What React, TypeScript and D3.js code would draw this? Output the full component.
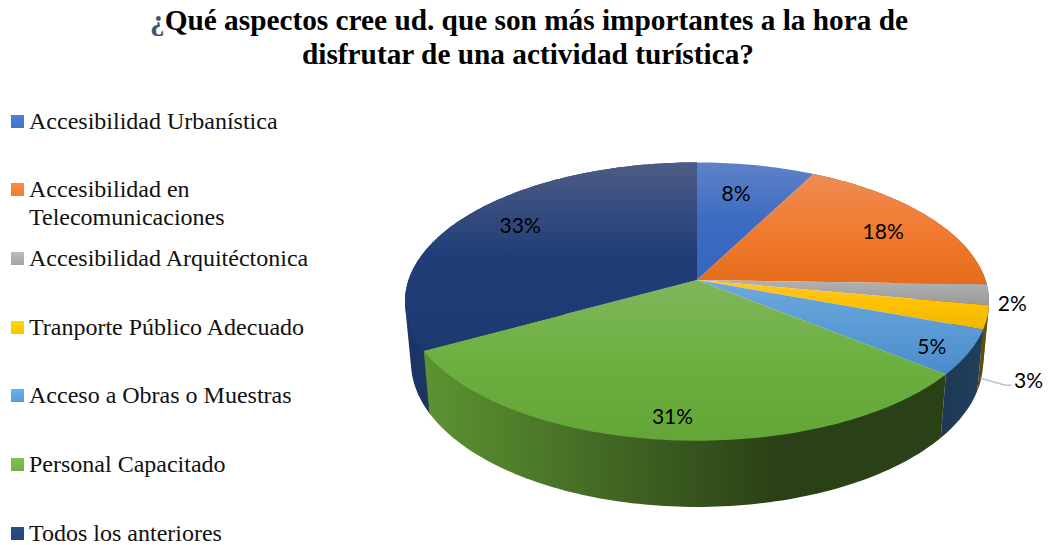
import * as d3 from "d3";

const categories = [
  "Accesibilidad Urbanística",
  "Accesibilidad en|Telecomunicaciones",
  "Accesibilidad Arquitéctonica",
  "Tranporte Público Adecuado",
  "Acceso a Obras o Muestras",
  "Personal Capacitado",
  "Todos los anteriores",
];
// shares; the labels show them rounded
const values = [7.6, 17.9, 2.4, 2.7, 5.2, 31.2, 33];

// face colours: [top of slice, middle, bottom of slice]
const faceColors = [
  ["#5f82c8", "#3c6bc2", "#3566be"],
  ["#ee8c55", "#f07b30", "#e56c1b"],
  ["#b2b2b2", "#a5a5a5", "#9a9a9a"],
  ["#ffc62e", "#ffc000", "#efb800"],
  ["#6fa8dc", "#5b9bd5", "#4a8ccb"],
  ["#7fb65c", "#6cb040", "#64a538"],
  ["#4d5c86", "#203d78", "#1d3a70"],
];
// wall colours: [left, right]
const wallColors = [
  ["#8a4212", "#8a4212"],
  ["#8a4212", "#8a4212"],
  ["#5e5e5e", "#5e5e5e"],
  ["#5c4500", "#705400"],
  ["#1d3854", "#20405f"],
  ["#5d9332", "#2a4016"],
  ["#1c3564", "#1a3160"],
];
const legendColors = ["#4472c4", "#ed7d31", "#a5a5a5", "#ffc000", "#5b9bd5", "#70ad47", "#264478"];

// layout
const width = 1048;
const height = 545;
const cx = 697;
const persp = -0.155;
const topLevel = { apex: 280, rx: 288.5, ry: 135.8 };
const bottomLevel = { apex: 339.5, rx: 282.6, ry: 141.5 };
const legendY = [115, 183, 252, 321, 389, 458, 527];
const wallOrder = [6, 1, 2, 3, 4, 5];
const labelRadius = [0.75, 0.75, 1.1, 1.1, 0.75, 0.75, 0.75];
const labelNudge = [
  [-7, 1],
  [10, -1],
  [-6, 6],
  [11, 58],
  [35, 12],
  [-3, 21],
  [-1, -7],
];

type Level = { apex: number; rx: number; ry: number };

// perspective projection of a point of the pie disc
const project = (angle: number, r: number, lv: Level): [number, number] => {
  const u = r * Math.sin(angle);
  const v = -r * Math.cos(angle);
  const w = 1 + persp * v;
  return [cx + (lv.rx * u) / w, lv.apex + (lv.ry * v) / w];
};

const sampleArc = (a0: number, a1: number, lv: Level) => {
  const n = Math.max(2, Math.ceil((a1 - a0) / 0.02));
  return d3.range(n + 1).map((i) => project(a0 + ((a1 - a0) * i) / n, 1, lv));
};

const line = d3.line();
const arcs = d3.pie<number>().sort(null)(values);
const pct = d3.format(".0f");

const App = () => {
  return (
    <svg
      width={width}
      height={height}
      style={{ position: "absolute", left: 0, top: 0, background: "#fff" }}
    >
      <defs>
        {faceColors.map((c, i) => (
          <linearGradient key={i} id={`face${i}`} x1="0" x2="0" y1="0" y2="1">
            <stop offset="0" stopColor={c[0]} />
            <stop offset="0.5" stopColor={c[1]} />
            <stop offset="1" stopColor={c[2]} />
          </linearGradient>
        ))}
        {wallColors.map((c, i) => (
          <linearGradient key={i} id={`wall${i}`} x1="0" x2="1" y1="0" y2="0">
            <stop offset="0" stopColor={c[0]} />
            <stop offset={i === 5 ? "0.68" : "1"} stopColor={c[1]} />
          </linearGradient>
        ))}
        {legendColors.map((c, i) => (
          <linearGradient key={i} id={`legend${i}`} x1="0" x2="0" y1="0" y2="1">
            <stop offset="0" stopColor={d3.color(c)!.brighter(0.35).formatHex()} />
            <stop offset="1" stopColor={c} />
          </linearGradient>
        ))}
      </defs>

      <text
        x={529}
        y={30}
        textAnchor="middle"
        fontFamily="Liberation Serif"
        fontWeight="bold"
        fontSize={29.3}
        fill="#000"
      >
        <tspan fill="#44546a">¿</tspan>Qué aspectos cree ud. que son más importantes a la hora de
      </text>
      <text
        x={528}
        y={64}
        textAnchor="middle"
        fontFamily="Liberation Serif"
        fontWeight="bold"
        fontSize={29.3}
        fill="#000"
      >
        disfrutar de una actividad turística?
      </text>

      {categories.map((name, i) => (
        <g key={name}>
          <rect x={11} y={legendY[i]} width={13} height={13} fill={`url(#legend${i})`} />
          {name.split("|").map((t, j) => (
            <text
              key={t}
              x={29}
              y={legendY[i] + 14 + j * 27.5}
              fontFamily="Liberation Serif"
              fontSize={24}
              fill="#111"
            >
              {t}
            </text>
          ))}
        </g>
      ))}

      {/* side walls: hull of the slice's top and bottom rims, back to front */}
      {wallOrder.map((i) => {
        const a = arcs[i];
        const hull = d3.polygonHull([
          ...sampleArc(a.startAngle, a.endAngle, topLevel),
          ...sampleArc(a.startAngle, a.endAngle, bottomLevel),
        ])!;
        return <path key={i} d={line(hull) + "Z"} fill={`url(#wall${i})`} />;
      })}

      {/* top faces */}
      {arcs.map((a, i) => (
        <path
          key={i}
          d={line([project(0, 0, topLevel), ...sampleArc(a.startAngle, a.endAngle, topLevel)]) + "Z"}
          fill={`url(#face${i})`}
        />
      ))}

      {/* leader line of the small slice */}
      {(() => {
        const [lx, ly] = project((arcs[3].startAngle + arcs[3].endAngle) / 2, labelRadius[3], topLevel);
        const px = lx + labelNudge[3][0];
        const py = ly + labelNudge[3][1];
        return (
          <path
            d={line([
              [px - 48, py - 1],
              [px - 23, py + 6],
              [px - 17, py + 6],
            ])!}
            fill="none"
            stroke="#b4c4d8"
            strokeWidth={1.5}
          />
        );
      })()}

      {arcs.map((a, i) => {
        const [x, y] = project((a.startAngle + a.endAngle) / 2, labelRadius[i], topLevel);
        return (
          <text
            key={i}
            x={x + labelNudge[i][0]}
            y={y + labelNudge[i][1]}
            textAnchor="middle"
            dominantBaseline="central"
            fontFamily="Lato"
            fontSize={21}
            fill="#000"
          >
            {pct(values[i])}%
          </text>
        );
      })}
    </svg>
  );
};

export default App;
